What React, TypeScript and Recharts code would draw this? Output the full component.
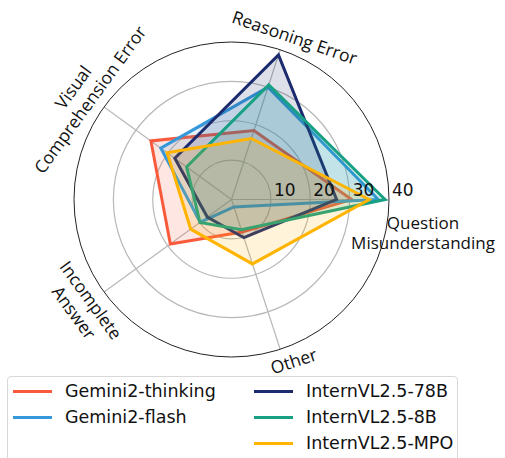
import React from 'react';
import { RadarChart, Radar, PolarGrid, PolarAngleAxis, PolarRadiusAxis } from 'recharts';

const categories = ['Question Misunderstanding', 'Reasoning Error', 'Visual Comprehension Error', 'Incomplete Answer', 'Other'];
const geminiThinking = [30.5, 18.4, 25.3, 19.2, 8.7];
const geminiFlash = [37.3, 30.0, 22.2, 9.8, 2.0];
const intern78B = [26.7, 38.6, 17.8, 7.6, 10.2];
const intern8B = [39.0, 30.6, 14.1, 9.9, 8.1];
const internMPO = [35.0, 16.3, 20.2, 12.8, 17.2];
const radiusTicks = [10, 20, 30, 40];

const series = [
  { key: 'gt', name: 'Gemini2-thinking', values: geminiThinking, color: '#fa5a3c' },
  { key: 'gf', name: 'Gemini2-flash', values: geminiFlash, color: '#3498db' },
  { key: 'i78', name: 'InternVL2.5-78B', values: intern78B, color: '#1c2a6e' },
  { key: 'i8', name: 'InternVL2.5-8B', values: intern8B, color: '#17a084' },
  { key: 'mpo', name: 'InternVL2.5-MPO', values: internMPO, color: '#ffb400' },
];

const data = categories.map((c, i) => {
  const row: any = { category: c };
  series.forEach((s) => { row[s.key] = s.values[i]; });
  return row;
});

const W = 505, H = 458;
const CX = 231.5, CY = 199.5, R = 157.5, MAXV = 40;
const STEP = 360 / categories.length;

const LABEL_FONT = '"Open Sans", sans-serif';
const NUM_FONT = '"DejaVu Sans", sans-serif';

const labelLayout: Record<string, { dx: number; dy: number; rot: number; lines: string[]; gap: number; size: number }> = {
  'Question Misunderstanding': { dx: 191.5, dy: 33, rot: 0, lines: ['Question', 'Misunderstanding'], gap: 20, size: 17 },
  'Reasoning Error': { dx: 63.5, dy: -162.5, rot: 19, lines: ['Reasoning Error'], gap: 0, size: 17.5 },
  'Visual Comprehension Error': { dx: -150.5, dy: -106.5, rot: -54, lines: ['Visual', 'Comprehension Error'], gap: 21, size: 17.5 },
  'Incomplete Answer': { dx: -148.5, dy: 106.5, rot: 54, lines: ['Incomplete', 'Answer'], gap: 21, size: 17.5 },
  'Other': { dx: 62, dy: 161, rot: -18, lines: ['Other'], gap: 0, size: 17.5 },
};

const AngleTick = (props: any) => {
  const { payload } = props;
  const cx = typeof props.cx === 'number' ? props.cx : CX;
  const cy = typeof props.cy === 'number' ? props.cy : CY;
  const l = labelLayout[payload.value];
  if (!l) return <g />;
  const n = l.lines.length;
  return (
    <g transform={`translate(${cx + l.dx},${cy + l.dy}) rotate(${l.rot})`}>
      {l.lines.map((line, i) => (
        <text
          key={i}
          x={0}
          y={(i - (n - 1) / 2) * l.gap}
          dominantBaseline="central"
          textAnchor="middle"
          fontFamily={LABEL_FONT}
          fontSize={l.size}
          fill="#111"
        >
          {line}
        </text>
      ))}
    </g>
  );
};

const RadiusTick = (props: any) => {
  const { x, y, payload } = props;
  if (!payload || payload.value === 0) return <g />;
  return (
    <text x={x + 3} y={y - 4} fontFamily={NUM_FONT} fontSize={17} fill="#111" textAnchor="start">
      {payload.value}
    </text>
  );
};

const legendCols = [
  [series[0], series[1], null],
  [series[2], series[3], series[4]],
];

const LegendBox = () => (
  <div
    style={{
      position: 'absolute', left: 7, top: 376, width: 451, height: 100,
      border: '1px solid #d8d8d8', borderRadius: 4, background: '#fff', boxSizing: 'border-box',
      fontFamily: NUM_FONT, fontSize: 17.5, color: '#111',
    }}
  >
    {legendCols.map((col, ci) =>
      col.map((s, ri) =>
        s ? (
          <div key={`${ci}-${ri}`} style={{ position: 'absolute', left: ci === 0 ? 5 : 246, top: 14 + ri * 26 - 12, height: 24, display: 'flex', alignItems: 'center', whiteSpace: 'nowrap' }}>
            <div style={{ width: 39, height: 3, background: s.color, marginRight: 13 }} />
            <span style={{ lineHeight: '24px' }}>{s.name}</span>
          </div>
        ) : null
      )
    )}
  </div>
);

export default function App() {
  const rings = radiusTicks.slice(0, 3).map((v) => (v / MAXV) * R);
  return (
    <div style={{ position: 'absolute', left: 0, top: 0, width: W, height: H, overflow: 'hidden', background: '#fff' }}>
      <RadarChart
        width={W}
        height={H}
        data={data}
        cx={CX}
        cy={CY}
        outerRadius={R}
        startAngle={-STEP}
        endAngle={360 - STEP}
        margin={{ top: 0, right: 0, bottom: 0, left: 0 }}
      >
        <PolarGrid gridType="circle" polarRadius={rings} stroke="#b8b8b8" strokeWidth={1.2} />
        <PolarAngleAxis
          dataKey="category"
          tick={<AngleTick />}
          tickLine={false}
          axisLineType="circle"
          axisLine={{ stroke: '#222', strokeWidth: 1 }}
        />
        <PolarRadiusAxis angle={0} domain={[0, MAXV]} tickCount={5} axisLine={false} tickLine={false} tick={<RadiusTick />} />
        {series.map((s) => (
          <Radar
            key={s.key}
            name={s.name}
            dataKey={s.key}
            stroke={s.color}
            strokeWidth={3}
            fill={s.color}
            fillOpacity={0.15}
            isAnimationActive={false}
          />
        ))}
      </RadarChart>
      <LegendBox />
    </div>
  );
}
